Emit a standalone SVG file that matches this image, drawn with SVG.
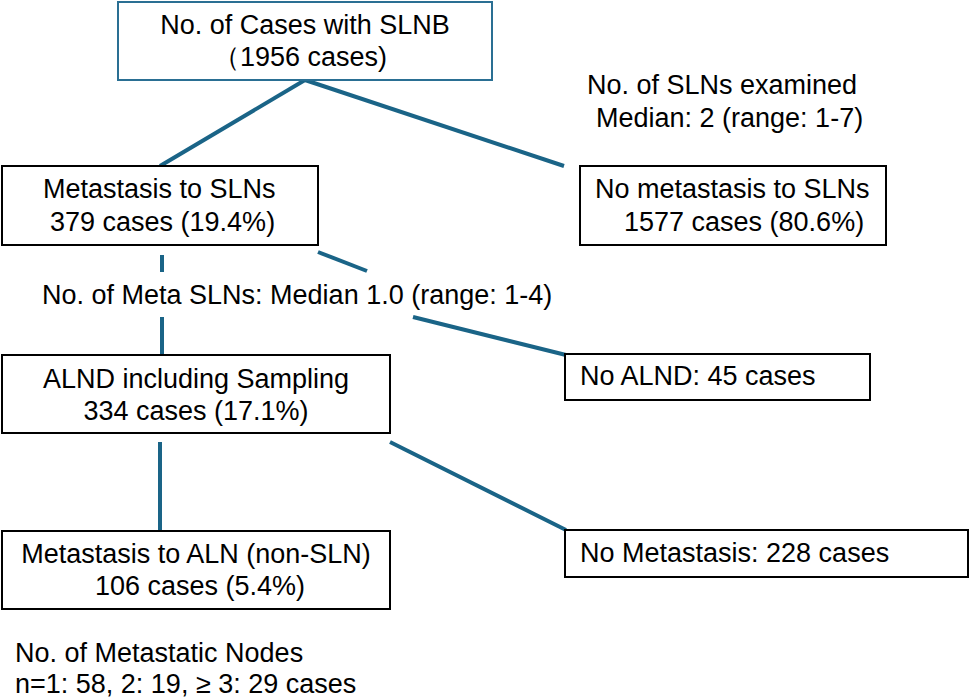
<svg xmlns="http://www.w3.org/2000/svg" width="971" height="699" viewBox="0 0 971 699">
<style>
text{font-family:"Liberation Sans",Arial,sans-serif;font-size:27px;fill:#000}
.b{fill:#fff;stroke:#000;stroke-width:2}
.c line{stroke:#1a6487;stroke-width:4}
</style>
<rect width="971" height="699" fill="#fff"/>
<g class="c" id="connectors">
<line x1="305" y1="80" x2="160" y2="166"/>
<line x1="305" y1="80" x2="564" y2="166"/>
<line x1="162" y1="255" x2="162" y2="272"/>
<line x1="162" y1="317" x2="162" y2="355"/>
<line x1="318" y1="252" x2="367" y2="271"/>
<line x1="413" y1="317" x2="566" y2="355"/>
<line x1="160" y1="442" x2="160" y2="531"/>
<line x1="390" y1="442" x2="566" y2="530"/>
</g>
<g id="n1"><rect x="118" y="2" width="374" height="78" fill="#fff" stroke="#2a6f93" stroke-width="2"/>
<text x="305" y="34" text-anchor="middle">No. of Cases with SLNB</text><text x="300" y="66" text-anchor="middle">（1956 cases)</text></g>
<g id="lbl1"><text x="587" y="94">No. of SLNs examined</text><text x="596" y="127">Median: 2 (range: 1-7)</text></g>
<g id="n2"><rect class="b" x="2" y="166" width="316" height="79"/>
<text x="43" y="198">Metastasis to SLNs</text><text x="50" y="231">379 cases (19.4%)</text></g>
<g id="n3"><rect class="b" x="580" y="166" width="306" height="79"/>
<text x="595" y="198">No metastasis to SLNs</text><text x="624" y="231">1577 cases (80.6%)</text></g>
<g id="lbl2"><text x="42" y="304">No. of Meta SLNs: Median 1.0 (range: 1-4)</text></g>
<g id="n4"><rect class="b" x="2" y="355" width="388" height="78"/>
<text x="196" y="388" text-anchor="middle">ALND including Sampling</text><text x="196" y="420" text-anchor="middle">334 cases (17.1%)</text></g>
<g id="n5"><rect class="b" x="565" y="354" width="305" height="46"/>
<text x="580" y="385">No ALND: 45 cases</text></g>
<g id="n6"><rect class="b" x="2" y="531" width="388" height="78"/>
<text x="196" y="563" text-anchor="middle">Metastasis to ALN (non-SLN)</text><text x="200" y="595" text-anchor="middle">106 cases (5.4%)</text></g>
<g id="n7"><rect class="b" x="565" y="530" width="403" height="47"/>
<text x="580" y="562">No Metastasis: 228 cases</text></g>
<g id="lbl3"><text x="15" y="662">No. of Metastatic Nodes</text><text x="15" y="693">n=1: 58,  2: 19, ≥ 3: 29 cases</text></g>
</svg>
